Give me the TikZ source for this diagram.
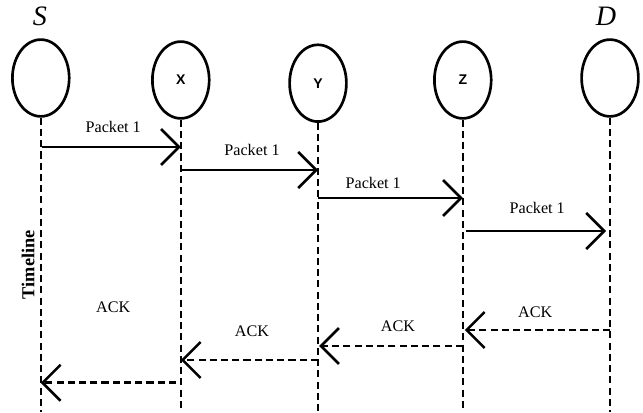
\documentclass[tikz,border=0pt]{standalone}
\usepackage{fontspec}
\setmainfont{Liberation Serif}
\setsansfont{Liberation Sans}
\usepackage{tikz}
\usetikzlibrary{arrows.meta,shapes.geometric}

\begin{document}
\begin{tikzpicture}[
    host/.style={ellipse,draw,line width=1.9pt,minimum width=1.42cm,minimum height=1.92cm,inner sep=0pt,font=\sffamily\bfseries\normalsize},
    life/.style={line width=1.4pt,dash pattern=on 5pt off 3pt},
    pkt/.style={line width=1.9pt,-{Straight Barb[length=4.5mm,width=9mm,line width=1.8pt]}},
    ack/.style={line width=1.9pt,dash pattern=on 5pt off 3pt,-{Straight Barb[length=4.5mm,width=9mm,line width=1.8pt]}},
    lbl/.style={font=\fontsize{11.5}{13}\selectfont}]
\useasboundingbox (0,0) rectangle (16.075,10.3);

  \node[host] (S) at (1.02,8.35)  {};
  \node[host] (X) at (4.52,8.3)   {X};
  \node[host] (Y) at (7.95,8.22)  {Y};
  \node[host] (Z) at (11.57,8.3)  {Z};
  \node[host] (D) at (15.25,8.35) {};

  \node (Sname) at (1.0,9.88)   {\fontsize{20}{22}\selectfont\itshape S};
  \node (Dname) at (15.15,9.88) {\fontsize{20}{22}\selectfont\itshape D};

  % lifelines
  \coordinate (Sb) at (1.02,0);
  \coordinate (Xb) at (4.52,0);
  \coordinate (Yb) at (7.95,0);
  \coordinate (Zb) at (11.57,0);
  \coordinate (Db) at (15.25,0);
  \draw[life] (S) -- (Sb);
  \draw[life] (X) -- (Xb);
  \draw[life] (Y) -- (Yb);
  \draw[life] (Z) -- (Zb);
  \draw[life] (D) -- (Db);

  \node[rotate=90,font=\fontsize{13}{15}\selectfont\bfseries] (time) at (0.7,3.68) {Timeline};

  % packets
  \coordinate (p1a) at (1.05,6.625);  \coordinate (p1b) at (4.52,6.625);
  \coordinate (p2a) at (4.52,6.05);   \coordinate (p2b) at (7.95,6.05);
  \coordinate (p3a) at (7.95,5.35);   \coordinate (p3b) at (11.57,5.35);
  \coordinate (p4a) at (11.65,4.525); \coordinate (p4b) at (15.15,4.525);

  \path[pkt]
    (p1a) edge (p1b)
    (p2a) edge (p2b)
    (p3a) edge (p3b)
    (p4a) edge (p4b);

  \node[lbl] (l1) at (2.83,7.13)  {Packet 1};
  \node[lbl] (l2) at (6.3,6.55)   {Packet 1};
  \node[lbl] (l3) at (9.33,5.73)  {Packet 1};
  \node[lbl] (l4) at (13.43,5.1)  {Packet 1};

  % acknowledgements
  \coordinate (a1a) at (15.25,2.05); \coordinate (a1b) at (11.62,2.05);
  \coordinate (a2a) at (11.57,1.65); \coordinate (a2b) at (7.98,1.65);
  \coordinate (a3a) at (7.95,1.3);   \coordinate (a3b) at (4.52,1.3);
  \coordinate (a4a) at (4.4,0.73);   \coordinate (a4b) at (1.02,0.73);

  \path[ack]
    (a1a) edge (a1b)
    (a2a) edge (a2b)
    (a3a) edge (a3b)
    (a4a) edge (a4b);

  \node[lbl] (k1) at (13.38,2.5) {ACK};
  \node[lbl] (k2) at (9.95,2.15) {ACK};
  \node[lbl] (k3) at (6.3,2.03)  {ACK};
  \node[lbl] (k4) at (2.83,2.63) {ACK};

\end{tikzpicture}
\end{document}
